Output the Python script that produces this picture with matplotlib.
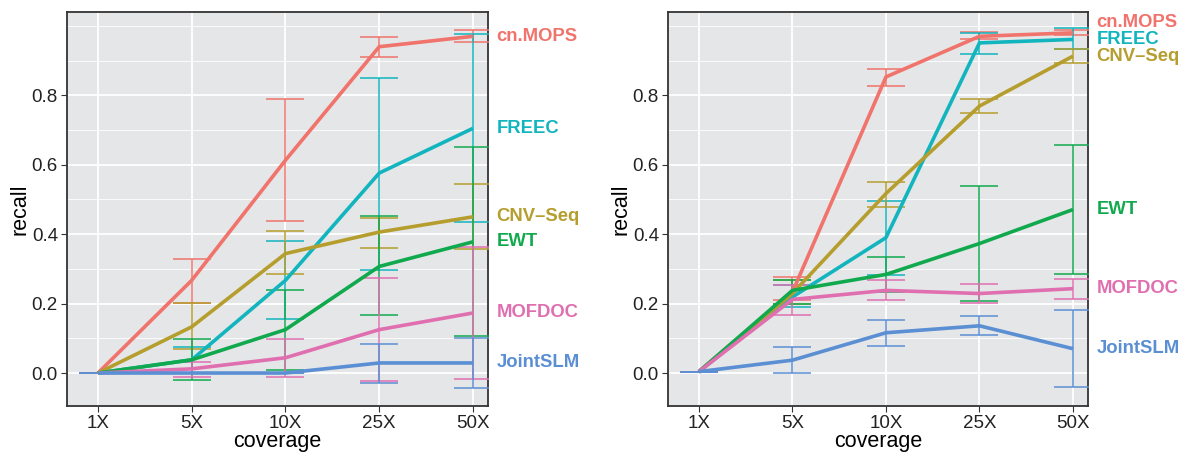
import numpy as np
import matplotlib.pyplot as plt

plt.rcParams['font.family'] = ['Liberation Sans', 'DejaVu Sans']

coverage = ["1X", "5X", "10X", "25X", "50X"]
methods = ["cn.MOPS", "FREEC", "CNV\u2013Seq", "EWT", "MOFDOC", "JointSLM"]
colors = ["#F0736C", "#12B5BE", "#B59E2E", "#11A94E", "#E06FB0", "#5B8FD3"]

# left panel: recall, lower and upper error bar
left_mean = [
    [0.0, 0.267, 0.613, 0.940, 0.970],
    [0.0, 0.038, 0.267, 0.576, 0.705],
    [0.0, 0.133, 0.344, 0.406, 0.450],
    [0.0, 0.038, 0.125, 0.307, 0.378],
    [0.0, 0.012, 0.044, 0.125, 0.173],
    [0.0, 0.000, 0.000, 0.029, 0.029],
]
left_lo = [
    [0.0, 0.202, 0.437, 0.911, 0.954],
    [0.0, 0.000, 0.155, 0.296, 0.435],
    [0.0, 0.070, 0.284, 0.360, 0.358],
    [0.0, -0.021, 0.010, 0.166, 0.107],
    [0.0, -0.012, -0.012, -0.024, -0.016],
    [0.0, 0.000, 0.000, -0.029, -0.043],
]
left_hi = [
    [0.0, 0.329, 0.788, 0.968, 0.988],
    [0.0, 0.075, 0.380, 0.851, 0.978],
    [0.0, 0.202, 0.408, 0.447, 0.545],
    [0.0, 0.099, 0.238, 0.452, 0.650],
    [0.0, 0.032, 0.099, 0.274, 0.362],
    [0.0, 0.000, 0.000, 0.085, 0.102],
]

# right panel
right_mean = [
    [0.004, 0.233, 0.853, 0.970, 0.980],
    [0.004, 0.219, 0.390, 0.951, 0.961],
    [0.004, 0.229, 0.517, 0.769, 0.913],
    [0.004, 0.238, 0.284, 0.373, 0.471],
    [0.004, 0.212, 0.238, 0.229, 0.243],
    [0.004, 0.037, 0.116, 0.136, 0.070],
]
right_lo = [
    [0.004, 0.209, 0.826, 0.963, 0.975],
    [0.004, 0.190, 0.281, 0.920, 0.933],
    [0.004, 0.200, 0.478, 0.749, 0.894],
    [0.004, 0.200, 0.232, 0.207, 0.284],
    [0.004, 0.168, 0.209, 0.202, 0.214],
    [0.004, 0.000, 0.078, 0.109, -0.040],
]
right_hi = [
    [0.004, 0.277, 0.875, 0.981, 0.989],
    [0.004, 0.253, 0.496, 0.980, 0.994],
    [0.004, 0.269, 0.549, 0.789, 0.932],
    [0.004, 0.269, 0.334, 0.538, 0.657],
    [0.004, 0.253, 0.269, 0.256, 0.272],
    [0.004, 0.074, 0.154, 0.164, 0.182],
]


def spread(vals, gap=0.048):
    # push labels apart from bottom up
    order = np.argsort(vals)
    out = np.array(vals, dtype=float)
    for a, b in zip(order[:-1], order[1:]):
        if out[b] - out[a] < gap:
            out[b] = out[a] + gap
    return out


def panel(ax, mean, lo, hi):
    x = np.arange(1, len(coverage) + 1)
    ax.set_facecolor("#E5E6E8")
    for i in range(len(methods)):
        m = np.array(mean[i])
        ax.errorbar(x, m, yerr=[m - np.array(lo[i]), np.array(hi[i]) - m],
                    fmt="none", ecolor=colors[i], elinewidth=1.1,
                    capsize=14, capthick=1.1, zorder=3)
    for i in range(len(methods)):
        ax.plot(x, mean[i], color=colors[i], lw=2.6, zorder=4,
                solid_capstyle="butt")
    ax.set_xlim(0.67, 5.16)
    ax.set_ylim(-0.095, 1.04)
    ax.set_xticks(x)
    ax.set_xticklabels(coverage)
    ax.set_yticks([0.0, 0.2, 0.4, 0.6, 0.8])
    ax.set_yticklabels(["0.0", "0.2", "0.4", "0.6", "0.8"])
    ax.set_yticks([0.1, 0.3, 0.5, 0.7, 0.9, 1.0], minor=True)
    ax.grid(True, which="major", color="white", lw=1.3, zorder=0)
    ax.grid(True, which="minor", axis="y", color="white", lw=0.6, zorder=0)
    ax.set_axisbelow(True)
    for s in ax.spines.values():
        s.set_color("#333333")
        s.set_linewidth(1.3)
    ax.tick_params(which="major", length=4, color="#333333", pad=2.5,
                   labelsize=13.5, labelcolor="#222222")
    ax.tick_params(which="minor", length=0)
    ax.set_xlabel("coverage", fontsize=15.5, labelpad=-1)
    ax.set_ylabel("recall", fontsize=15.5, labelpad=1)
    ypos = spread([m[-1] for m in mean])
    for i in range(len(methods)):
        ax.annotate(methods[i], xy=(1, ypos[i]),
                    xycoords=("axes fraction", "data"),
                    xytext=(6, 0), textcoords="offset points",
                    color=colors[i], fontsize=13.3, fontweight="bold",
                    va="center", ha="left", annotation_clip=False)


fig = plt.figure(figsize=(11.83, 4.53), dpi=100)
ax1 = fig.add_axes([67 / 1183, 47 / 453, 421 / 1183, 394 / 453])
ax2 = fig.add_axes([668 / 1183, 47 / 453, 420 / 1183, 394 / 453])
panel(ax1, left_mean, left_lo, left_hi)
panel(ax2, right_mean, right_lo, right_hi)
fig.savefig("out.png", dpi=100)
